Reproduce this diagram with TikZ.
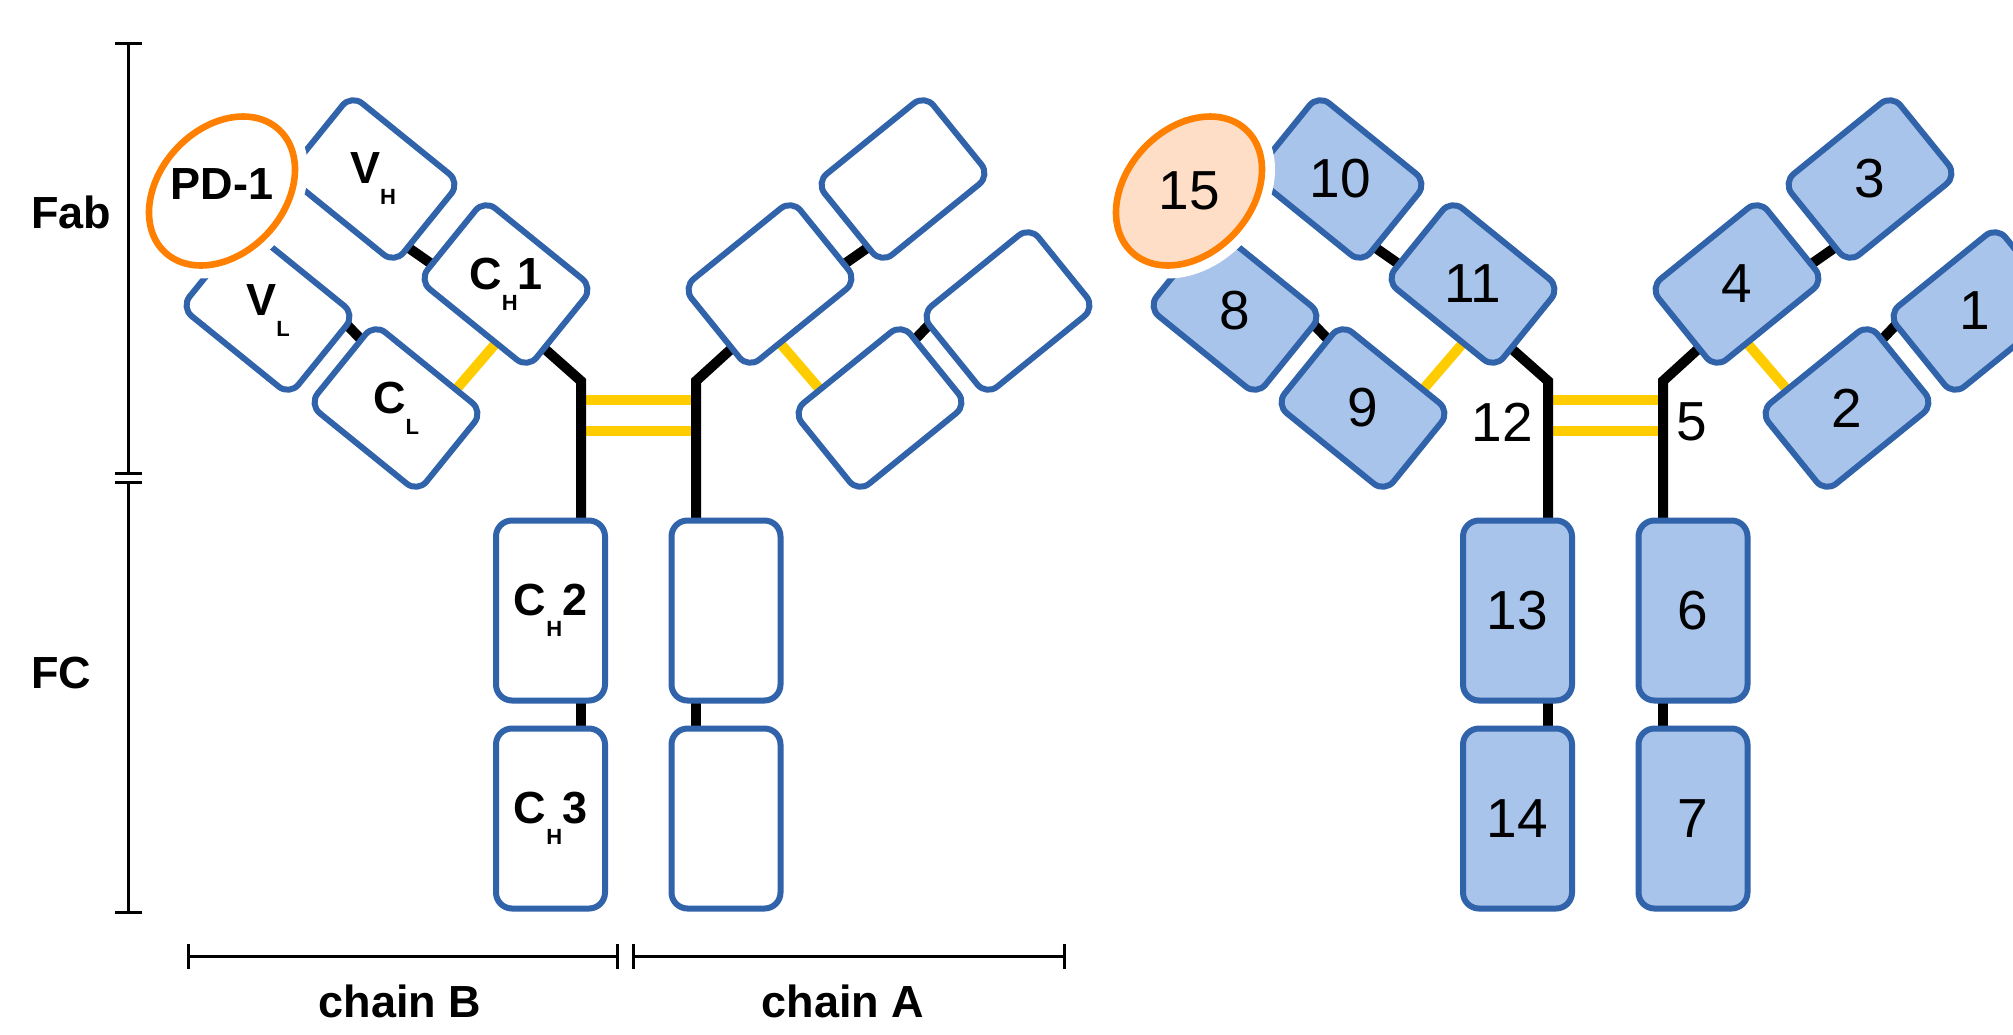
\documentclass[tikz,border=0pt]{standalone}
\usepackage{fontspec}
\setmainfont{Liberation Sans}
\usetikzlibrary{calc,shapes.geometric}
\pgfdeclarelayer{background}
\pgfsetlayers{background,main}

\definecolor{domline}{RGB}{48,99,170}
\definecolor{domfill}{RGB}{169,196,235}
\definecolor{pdorange}{RGB}{255,128,0}
\definecolor{pdfill}{RGB}{255,222,199}
\definecolor{ssyellow}{RGB}{255,204,0}

% lowered chain subscript (C_H, V_L, ...)
\newcommand\dsub[1]{\raisebox{-10.5pt}{\fontsize{11pt}{11pt}\selectfont #1}}

\tikzset{
  dom/.style={draw=domline, line width=3pt, rounded corners=7pt,
    minimum width=70pt, minimum height=52pt, inner sep=0pt, outer sep=0pt},
  armB/.style={dom, rotate=-39},
  armA/.style={dom, rotate=39},
  fcdom/.style={draw=domline, line width=3pt, rounded corners=8pt,
    minimum width=54.5pt, minimum height=90pt, inner sep=0pt, outer sep=0pt},
  blank/.style={fill=white},
  tinted/.style={fill=domfill},
  lbl/.style={font=\fontsize{22.5pt}{24pt}\selectfont\bfseries, inner sep=0pt},
  num/.style={font=\fontsize{27.5pt}{30pt}\selectfont, inner sep=0pt},
  tag/.style={font=\fontsize{22.5pt}{24pt}\selectfont\bfseries, inner sep=0pt},
  tie/.style={line width=5pt, draw=black, line join=miter},
  ss/.style={line width=5pt, draw=ssyellow},
  bar/.style={line width=1.5pt, draw=black},
  antigen/.style={ellipse, draw=pdorange, line width=3.3pt, inner sep=0pt,
    minimum width=83.7pt, minimum height=62.2pt, rotate=47,
    preaction={draw=white, line width=13pt}},
}

\begin{document}
\begin{tikzpicture}[x=0.5pt, y=-0.5pt]
\useasboundingbox (0,0) rectangle (2013,1034);
\clip (0,0) rectangle (2013,1034);

% ---------------- labelled antibody (left) ----------------
% chain B arm
\node[armB, blank] (VH)  at (373,179) {};
\node[armB, blank] (CH1) at (506,284) {};
\node[armB, blank] (VL)  at (268,311) {};
\node[armB, blank] (CL)  at (396,408) {};
% chain A arm
\node[armA, blank] (aV)   at (903,179) {};
\node[armA, blank] (aC1)  at (770,284) {};
\node[armA, blank] (aVL)  at (1008,311) {};
\node[armA, blank] (aCL)  at (880,408) {};
% Fc domains
\node[fcdom, blank] (CH2) at (550.5,610.5) {};
\node[fcdom, blank] (CH3) at (550.5,818.5) {};
\node[fcdom, blank] (aC2) at (726,610.5) {};
\node[fcdom, blank] (aC3) at (726,818.5) {};
% hinge points
\coordinate (hB) at (581,381);
\coordinate (hA) at (696,381);

\begin{pgfonlayer}{background}
  \draw[ss] ($(hB)+(0,19)$) -- ($(hA)+(0,19)$);
  \draw[ss] ($(hB)+(0,50)$) -- ($(hA)+(0,50)$);
  \draw[tie] ($(CH1.east)!0.5!(CH1.south east)$) -- (hB) -- (hB |- CH2.north);
  \draw[tie] (hB |- CH2.south) -- (hB |- CH3.north);
  \draw[tie] ($(aC1.west)!0.5!(aC1.south west)$) -- (hA) -- (hA |- aC2.north);
  \draw[tie] (hA |- aC2.south) -- (hA |- aC3.north);
  \draw[tie] ($(VH.east)!0.6!(VH.south east)$) -- ($(CH1.west)!0.6!(CH1.south west)$);
  \draw[tie] ($(VL.east)!0.75!(VL.north east)$) -- ($(CL.west)!0.6!(CL.north west)$);
  \draw[ss] ($(CH1.south)!0.42!(CH1.south east)$) -- ($(CL.north)!0.5!(CL.north east)$);
  \draw[tie] ($(aV.west)!0.6!(aV.south west)$) -- ($(aC1.east)!0.6!(aC1.south east)$);
  \draw[tie] ($(aVL.west)!0.75!(aVL.north west)$) -- ($(aCL.east)!0.6!(aCL.north east)$);
  \draw[ss] ($(aC1.south)!0.42!(aC1.south west)$) -- ($(aCL.north)!0.5!(aCL.north west)$);
\end{pgfonlayer}

\node[lbl] (tVH)  at (VH)  {V\dsub{H}};
\node[lbl] (tCH1) at (CH1) {C\dsub{H}1};
\node[lbl] (tVL)  at (VL)  {V\dsub{L}};
\node[lbl] (tCL)  at (CL)  {C\dsub{L}};
\node[lbl] (tCH2) at (CH2) {C\dsub{H}2};
\node[lbl] (tCH3) at (CH3) {C\dsub{H}3};

\node[antigen, fill=white] (pd) at (222,191) {};
\node[lbl] (tpd) at (222,184) {PD-1};

% ---------------- numbered antibody (right) ----------------
\node[armB, tinted] (b10) at (1340,179) {};
\node[armB, tinted] (b11) at (1473,284) {};
\node[armB, tinted] (b8)  at (1235,311) {};
\node[armB, tinted] (b9)  at (1363,408) {};
\node[armA, tinted] (b3)  at (1870,179) {};
\node[armA, tinted] (b4)  at (1737,284) {};
\node[armA, tinted] (b1)  at (1975,311) {};
\node[armA, tinted] (b2)  at (1847,408) {};
\node[fcdom, tinted] (b13) at (1517.5,610.5) {};
\node[fcdom, tinted] (b14) at (1517.5,818.5) {};
\node[fcdom, tinted] (b6)  at (1693,610.5) {};
\node[fcdom, tinted] (b7)  at (1693,818.5) {};
\coordinate (h12) at (1548,381);
\coordinate (h5)  at (1663,381);

\begin{pgfonlayer}{background}
  \draw[ss] ($(h12)+(0,19)$) -- ($(h5)+(0,19)$);
  \draw[ss] ($(h12)+(0,50)$) -- ($(h5)+(0,50)$);
  \draw[tie] ($(b11.east)!0.5!(b11.south east)$) -- (h12) -- (h12 |- b13.north);
  \draw[tie] (h12 |- b13.south) -- (h12 |- b14.north);
  \draw[tie] ($(b4.west)!0.5!(b4.south west)$) -- (h5) -- (h5 |- b6.north);
  \draw[tie] (h5 |- b6.south) -- (h5 |- b7.north);
  \draw[tie] ($(b10.east)!0.6!(b10.south east)$) -- ($(b11.west)!0.6!(b11.south west)$);
  \draw[tie] ($(b8.east)!0.75!(b8.north east)$) -- ($(b9.west)!0.6!(b9.north west)$);
  \draw[ss] ($(b11.south)!0.42!(b11.south east)$) -- ($(b9.north)!0.5!(b9.north east)$);
  \draw[tie] ($(b3.west)!0.6!(b3.south west)$) -- ($(b4.east)!0.6!(b4.south east)$);
  \draw[tie] ($(b1.west)!0.75!(b1.north west)$) -- ($(b2.east)!0.6!(b2.north east)$);
  \draw[ss] ($(b4.south)!0.42!(b4.south west)$) -- ($(b2.north)!0.5!(b2.north west)$);
\end{pgfonlayer}

\foreach \n in {1,2,3,4,6,7,8,9,10,11,13,14}
  \node[num] (t\n) at (b\n) {\n};
\node[num, anchor=east] (t12) at (1533,422) {12};
\node[num, anchor=west] (t5)  at (1676,422) {5};

\node[antigen, fill=pdfill] (ag) at (1189,191) {};
\node[num] (t15) at (ag) {15};

% ---------------- region brackets ----------------
\coordinate (fabT) at (128.5,43);
\coordinate (fabB) at (128.5,473);
\coordinate (fcT)  at (128.5,482);
\coordinate (fcB)  at (128.5,912);
\draw[bar] (fabT) -- (fabB);
\draw[bar] (fcT) -- (fcB);
\foreach \p in {fabT,fabB,fcT,fcB}
  \draw[bar] ($(\p)+(-13.5,0)$) -- ($(\p)+(13.5,0)$);
\node[tag, anchor=base west] (fab) at (31,228) {Fab};
\node[tag, anchor=base west] (fc)  at (31,688) {FC};

\coordinate (cbL) at (188,956);
\coordinate (cbR) at (617,956);
\coordinate (caL) at (633,956);
\coordinate (caR) at (1064,956);
\draw[bar] (cbL) -- (cbR);
\draw[bar] (caL) -- (caR);
\foreach \p in {cbL,cbR,caL,caR}
  \draw[bar] ($(\p)+(0,-12.5)$) -- ($(\p)+(0,12.5)$);
\node[tag, anchor=base] (chB) at (400,1017) {chain B};
\node[tag, anchor=base] (chA) at (843,1017) {chain A};
\end{tikzpicture}
\end{document}
